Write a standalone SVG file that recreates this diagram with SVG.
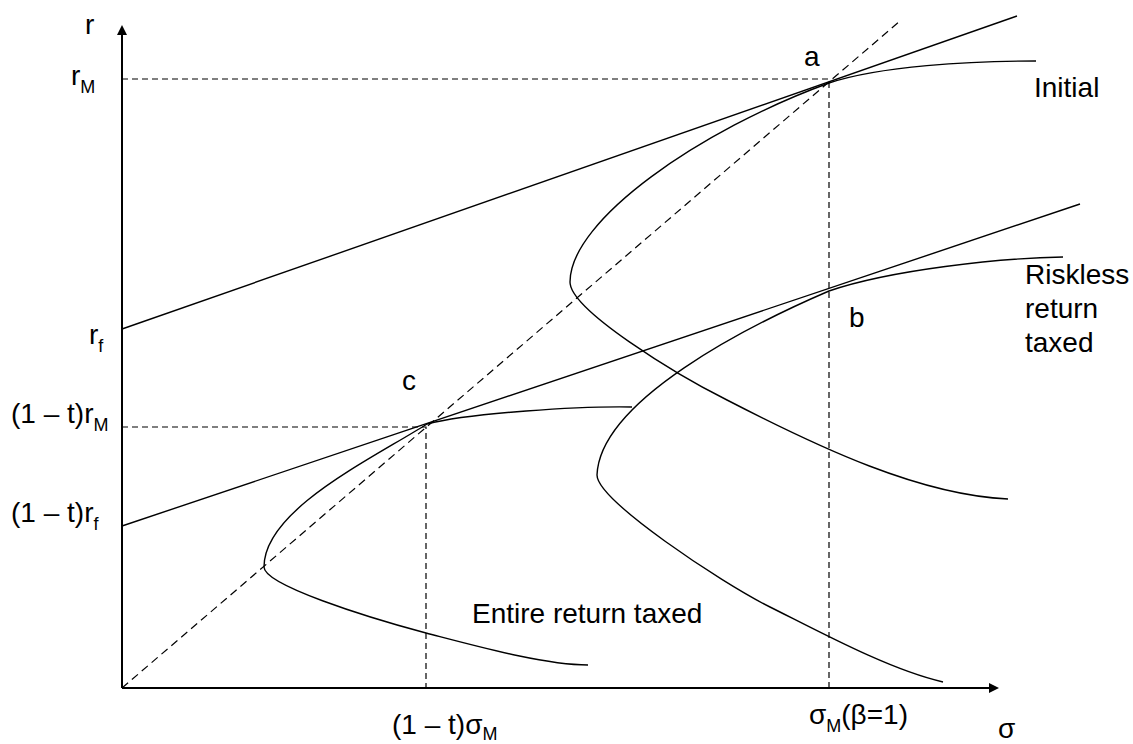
<svg xmlns="http://www.w3.org/2000/svg" width="1133" height="744" viewBox="0 0 1133 744">
<style>
.ax{stroke:#000;stroke-width:2;fill:none}
.ln{stroke:#000;stroke-width:1.4;fill:none}
.ds{stroke:#000;stroke-width:1.2;fill:none;stroke-dasharray:6,4}
.dg{stroke:#000;stroke-width:1.2;fill:none;stroke-dasharray:8,5}
text{font-family:"Liberation Sans",Arial,sans-serif;font-size:28px;fill:#000}
.sub{font-size:18px}
</style>
<rect width="1133" height="744" fill="#fff"/>
<g id="axes">
<line class="ax" x1="122" y1="688" x2="122" y2="34"/>
<polygon points="122,25 117,35 127,35" fill="#000"/>
<line class="ax" x1="122" y1="688" x2="989" y2="688"/>
<polygon points="999,688 989,683 989,693" fill="#000"/>
</g>
<g id="connectors">
<line class="ln" x1="122" y1="329" x2="1017" y2="16"/>
<line class="ln" x1="122" y1="526" x2="1080" y2="204"/>
<line class="dg" x1="122" y1="688" x2="900" y2="21"/>
<polyline class="ds" points="122,79 829,79 829,688"/>
<polyline class="ds" points="122,427 426,427 426,688"/>
</g>
<g id="curve-initial">
<path class="ln" d="M1036,61 C970,61 880,66 829,83 C700,130 570,220 570,282 C570,310 677,375 727,400 C820,448 920,495 1008,499"/>
</g>
<g id="curve-riskless">
<path class="ln" d="M1063,257 C1000,258 890,270 829,291 C750,325 600,400 597,475 C597,500 720,582 770,607 C820,632 890,670 943,682"/>
</g>
<g id="curve-entire">
<path class="ln" d="M632,407 C580,406 470,413 427,424 C370,460 264,510 264,567 C264,585 366,617 426,633 C480,647 545,665 588,665"/>
</g>
<g id="labels">
<text x="85" y="34">r</text>
<text x="71" y="85">r<tspan class="sub" dy="8">M</tspan></text>
<text x="89" y="344">r<tspan class="sub" dy="8">f</tspan></text>
<text x="11" y="423">(1 – t)r<tspan class="sub" dy="8">M</tspan></text>
<text x="11" y="522">(1 – t)r<tspan class="sub" dy="8">f</tspan></text>
<text x="804" y="66">a</text>
<text x="849" y="327">b</text>
<text x="402" y="390">c</text>
<text x="1034" y="97">Initial</text>
<text x="1025" y="284">Riskless</text>
<text x="1025" y="318">return</text>
<text x="1025" y="352">taxed</text>
<text x="472" y="623">Entire return taxed</text>
<text x="392" y="734">(1 – t)σ<tspan class="sub" dy="6">M</tspan></text>
<text x="809" y="724">σ<tspan class="sub" dy="8">M</tspan><tspan dy="-8">(β=1)</tspan></text>
<text x="998" y="738">σ</text>
</g>
</svg>
